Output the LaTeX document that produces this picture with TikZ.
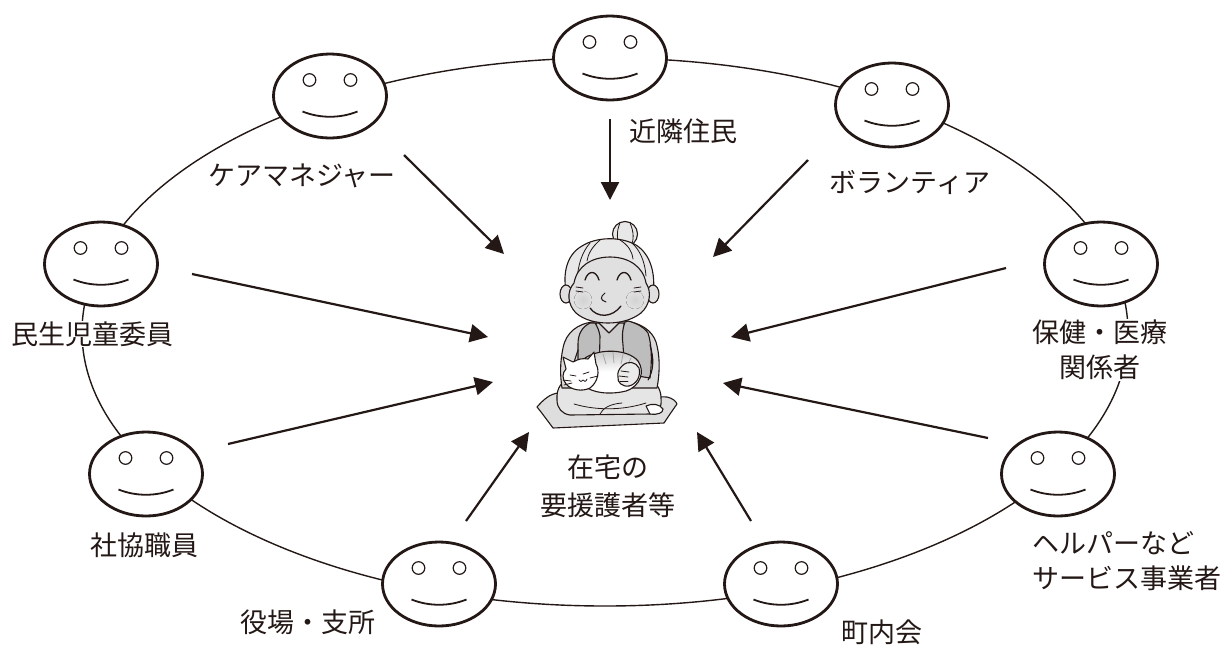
\documentclass[tikz,border=0pt]{standalone}
\usepackage{fontspec}
\newfontfamily\jp{Noto Sans CJK JP}
\usetikzlibrary{arrows.meta,shapes.geometric,calc}
\definecolor{ink}{RGB}{35,24,21}
\definecolor{hairc}{gray}{0.91}
\definecolor{facec}{gray}{0.88}
\definecolor{vestc}{gray}{0.74}
\definecolor{sleevec}{gray}{0.86}
\definecolor{shirtc}{gray}{0.80}
\definecolor{legc}{gray}{0.90}
\definecolor{cushc}{gray}{0.87}
\definecolor{handc}{gray}{0.92}
\begin{document}
\begin{tikzpicture}[x=1pt,y=-1pt,
  face/.style={ellipse, draw=ink, line width=2.8pt, fill=white,
    minimum width=113pt, minimum height=84pt, inner sep=0pt},
  eye/.style={draw=ink, line width=1.2pt},
  mouth/.style={draw=ink, line width=1.8pt},
  ring/.style={draw=ink, line width=1.4pt},
  arrowline/.style={draw=ink, line width=2.2pt, -{Triangle[length=18pt,width=18pt]}},
  lbl/.style={font=\jp\fontsize{27pt}{35pt}\selectfont, text=ink, fill=white,
    inner sep=1pt, align=center},
  gline/.style={draw=ink, line width=1.1pt, line join=round, line cap=round},
  thin/.style={draw=ink, line width=0.8pt, line cap=round}]

\fill[white] (0,0) rectangle (1226,646);
\useasboundingbox (0,0) rectangle (1226,646);

% the ring that links everyone around the person cared for
\draw[ring] (605,332) ellipse [x radius=523pt, y radius=274pt];

% smiling faces on the ring
\node[face] (fT)  at (610,58)  {};
\node[face] (fUL) at (330,96)  {};
\node[face] (fUR) at (892,105) {};
\node[face] (fL)  at (101,264) {};
\node[face] (fR)  at (1101,264) {};
\node[face] (fLL) at (146,474) {};
\node[face] (fLR) at (1058,474) {};
\node[face] (fBL) at (439,584) {};
\node[face] (fBR) at (781,584) {};
\foreach \fc in {fT,fUL,fUR,fL,fR,fLL,fLR,fBL,fBR}{
  \begin{scope}[shift={(\fc.center)}]
    \draw[eye] (-20.5,-16) circle[radius=6.3pt];
    \draw[eye] (20.5,-16) circle[radius=6.3pt];
    \draw[mouth] (-27.5,15.5) .. controls (-10,22.5) and (10,22.5) .. (27.5,15.5);
  \end{scope}
}

% labels
\node[lbl] (lNear) at (683,131) {近隣住民};
\node[lbl] (lCare) at (302,176) {ケアマネジャー};
\node[lbl] (lVol)  at (910,182) {ボランティア};
\node[lbl] (lMin)  at (93,334)  {民生児童委員};
\node[lbl] (lMed)  at (1100,350) {保健・医療\\関係者};
\node[lbl, align=left, anchor=west] (lHelp) at (1031,561) {ヘルパーなど\\サービス事業者};
\node[lbl] (lSha)  at (144,545) {社協職員};
\node[lbl] (lYaku) at (308,622) {役場・支所};
\node[lbl] (lCho)  at (882,632) {町内会};
\node[lbl, font=\jp\fontsize{27pt}{38pt}\selectfont] (lCenter) at (608,486) {在宅の\\要援護者等};

% arrows toward the centre
\coordinate (s1) at (610,119);  \coordinate (t1) at (610,200);
\coordinate (s2) at (404,155);  \coordinate (t2) at (504,254);
\coordinate (s3) at (808,160);  \coordinate (t3) at (713,257);
\coordinate (s4) at (192,274);  \coordinate (t4) at (488,337);
\coordinate (s5) at (228,444);  \coordinate (t5) at (493,382);
\coordinate (s6) at (1006,268); \coordinate (t6) at (731,337);
\coordinate (s7) at (988,438);  \coordinate (t7) at (723,383);
\coordinate (s8) at (466,521);  \coordinate (t8) at (529,432);
\coordinate (s9) at (751,521);  \coordinate (t9) at (697,432);
\foreach \i in {1,...,9}{ \draw[arrowline] (s\i) -- (t\i); }

% ---- the grandmother holding a cat ----
% cushion
\draw[gline, fill=cushc] (537,407) .. controls (544,399) and (550,394) .. (558,393)
  -- (667,397) .. controls (672,398) and (676,401) .. (677,404)
  .. controls (672,411) and (668,417) .. (664,423) -- (553,428)
  .. controls (547,420) and (542,413) .. (537,407) -- cycle;
% kneeling legs
\draw[gline, fill=legc] (557,400) .. controls (556,388) and (562,380) .. (572,378)
  -- (645,378) .. controls (655,380) and (661,388) .. (661,398)
  .. controls (662,407) and (659,413) .. (650,414) -- (570,415)
  .. controls (562,414) and (557,408) .. (557,400) -- cycle;
\draw[thin] (574,404) .. controls (598,411) and (624,410) .. (646,403);
\draw[thin] (600,414) .. controls (603,408) and (610,404) .. (622,403);
% feet
\draw[gline, fill=white] (646,406) .. controls (652,403) and (660,404) .. (663,409)
  .. controls (663,413) and (658,415) .. (650,414) -- cycle;
% torso with sleeves
\draw[gline, fill=sleevec] (592,322) .. controls (578,324) and (566,332) .. (563,348)
  .. controls (560,362) and (560,375) .. (562,388) -- (657,388)
  .. controls (660,372) and (660,355) .. (656,342)
  .. controls (652,330) and (640,323) .. (626,321) -- cycle;
% shirt front
\draw[gline, fill=shirtc] (596,323) -- (598,378) -- (626,378) -- (624,323) -- cycle;
% vest panels
\draw[gline, fill=vestc] (590,323) .. controls (582,327) and (578,334) .. (578,344)
  -- (578,374) -- (599,378) -- (600,336) .. controls (599,330) and (597,326) .. (595,323) -- cycle;
\draw[gline, fill=vestc] (625,322) .. controls (622,330) and (622,338) .. (623,345)
  -- (625,374) -- (650,378) .. controls (652,362) and (652,345) .. (648,333)
  .. controls (644,327) and (636,323) .. (628,321) -- cycle;
% collar
\draw[gline, fill=facec] (598,322) -- (609,333) -- (620,322) -- cycle;
% arm lines
\draw[gline] (578,350) .. controls (574,362) and (571,372) .. (566,382);
\draw[gline] (650,345) .. controls (654,358) and (654,370) .. (648,380);
% cat body
\begin{scope}
  \clip (585,358) .. controls (600,348) and (628,349) .. (638,361)
    .. controls (645,371) and (641,386) .. (626,391)
    .. controls (610,395) and (592,393) .. (585,386) -- cycle;
  \shade[top color=gray!55, bottom color=white] (580,345) rectangle (650,372);
  \fill[white] (580,372) rectangle (650,400);
\end{scope}
\draw[gline] (585,358) .. controls (600,348) and (628,349) .. (638,361)
  .. controls (645,371) and (641,386) .. (626,391)
  .. controls (610,395) and (592,393) .. (585,386);
\draw[thin, draw=gray!70] (603,354) -- (606,364);
\draw[thin, draw=gray!70] (613,352) -- (614,363);
\draw[thin, draw=gray!70] (623,354) -- (621,364);
\draw[thin, draw=gray!70] (631,358) -- (627,366);
% cat head
\draw[gline, fill=white] (566,369) -- (563,357) -- (573,362)
  .. controls (578,359) and (583,358) .. (588,359) -- (594,352) -- (596,364)
  .. controls (600,371) and (598,382) .. (590,388)
  .. controls (582,392) and (571,390) .. (566,384)
  .. controls (562,379) and (562,373) .. (566,369) -- cycle;
\draw[thin] (570,375) -- (576,376);
\draw[thin] (583,374) -- (589,372);
\draw[thin] (579,380) .. controls (580,382) and (582,382) .. (583,380)
  .. controls (584,382) and (586,382) .. (587,379);
\draw[thin] (571,381) -- (563,380);
\draw[thin] (572,383) -- (564,385);
\draw[thin] (590,378) -- (598,376);
% hand resting on the cat
\draw[gline, fill=handc] (622,366) .. controls (628,360) and (636,362) .. (639,368)
  .. controls (641,376) and (637,384) .. (629,386)
  .. controls (622,387) and (617,382) .. (618,377)
  .. controls (617,373) and (619,369) .. (622,366) -- cycle;
\draw[thin] (621,371) -- (629,372);
\draw[thin] (619,376) -- (628,377);
\draw[thin] (620,381) -- (628,381);
% hair bun
\draw[gline, fill=hairc] (625,234) circle[radius=12.5pt];
\draw[thin] (620,223) .. controls (616,232) and (617,240) .. (620,246);
\draw[thin] (630,223) .. controls (634,232) and (634,240) .. (631,246);
% hair
\draw[gline, fill=hairc] (567,296) .. controls (562,275) and (566,255) .. (582,246)
  .. controls (596,237) and (620,236) .. (636,245)
  .. controls (650,254) and (656,272) .. (653,296) -- cycle;
\draw[thin] (590,243) .. controls (582,252) and (578,265) .. (577,280);
\draw[thin] (600,240) .. controls (592,247) and (588,254) .. (587,261);
\draw[thin] (632,243) .. controls (640,250) and (645,262) .. (646,276);
\draw[thin] (620,240) .. controls (628,245) and (632,251) .. (633,259);
% ears
\draw[gline, fill=facec] (566,294) ellipse [x radius=6pt, y radius=9pt];
\draw[gline, fill=facec] (653,294) ellipse [x radius=6pt, y radius=9pt];
% face
\draw[gline, fill=facec] (574,283) .. controls (577,266) and (592,257) .. (610,257)
  .. controls (628,257) and (643,266) .. (646,283)
  .. controls (652,292) and (650,305) .. (641,313)
  .. controls (632,320) and (620,323) .. (608,323)
  .. controls (596,323) and (584,320) .. (576,313)
  .. controls (568,305) and (566,292) .. (574,283) -- cycle;
% cheeks
\fill[inner color=gray!35, outer color=facec] (583,300) circle[radius=9pt];
\fill[inner color=gray!35, outer color=facec] (635,300) circle[radius=9pt];
% closed smiling eyes
\draw[gline, line width=1.3pt] (585,280) .. controls (588,270) and (596,270) .. (599,280);
\draw[gline, line width=1.3pt] (617,280) .. controls (620,270) and (628,270) .. (631,280);
% wrinkles
\draw[thin] (576,287) -- (583,288);
\draw[thin] (576,291) -- (583,292);
\draw[thin] (634,288) -- (641,287);
\draw[thin] (634,292) -- (641,291);
% nose and mouth
\draw[thin, line width=1pt] (605,293) .. controls (600,297) and (600,300) .. (606,302);
\draw[gline, line width=1.3pt] (590,308) .. controls (597,318) and (612,318) .. (621,306);
\end{tikzpicture}
\end{document}
